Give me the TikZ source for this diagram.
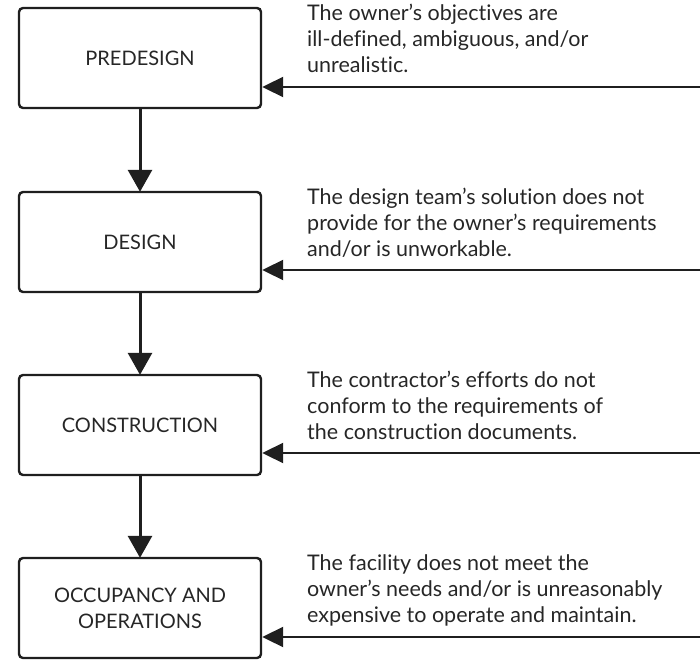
\documentclass[tikz,border=0pt]{standalone}
\usepackage{fontspec}
\setmainfont{Lato}[RawFeature=-liga]
\usetikzlibrary{arrows.meta}
\begin{document}
\begin{tikzpicture}[x=1pt,y=-1pt,
  phase/.style={draw=black!88, line width=2.4pt, rounded corners=4pt,
    minimum width=242pt, minimum height=100pt, inner sep=0pt,
    align=center, font=\fontsize{20}{26}\selectfont, text=black!85},
  flow/.style={draw=black!88, line width=3pt,
    -{Triangle[length=22pt,width=24pt]}, shorten >=-1pt},
  issue/.style={draw=black!88, line width=2pt,
    -{Triangle[length=21pt,width=20pt]}},
  note/.style={anchor=north west, align=left, inner sep=0pt,
    font=\fontsize{21.5}{26}\selectfont, text=black!85}]
\useasboundingbox (0,0) rectangle (700,660);

\node[phase] (pre)  at (140,58)  {PREDESIGN};
\node[phase] (des)  at (140,242) {DESIGN};
\node[phase] (con)  at (140,425) {CONSTRUCTION};
\node[phase] (occ)  at (140,608) {OCCUPANCY AND\\OPERATIONS};

\draw[flow] (pre) -- (des);
\draw[flow] (des) -- (con);
\draw[flow] (con) -- (occ);

\coordinate (e1) at (701,87);
\coordinate (e2) at (701,270);
\coordinate (e3) at (701,453);
\coordinate (e4) at (701,637);
\draw[issue] (e1) -- (e1 -| pre.east);
\draw[issue] (e2) -- (e2 -| des.east);
\draw[issue] (e3) -- (e3 -| con.east);
\draw[issue] (e4) -- (e4 -| occ.east);

\node[note] (n1) at (307,4)   {The owner’s objectives are\\ill-defined, ambiguous, and/or\\unrealistic.};
\node[note] (n2) at (307,188) {The design team’s solution does not\\provide for the owner’s requirements\\and/or is unworkable.};
\node[note] (n3) at (307,371) {The contractor’s efforts do not\\conform to the requirements of\\the construction documents.};
\node[note] (n4) at (307,554) {The facility does not meet the\\owner’s needs and/or is unreasonably\\expensive to operate and maintain.};
\end{tikzpicture}
\end{document}
